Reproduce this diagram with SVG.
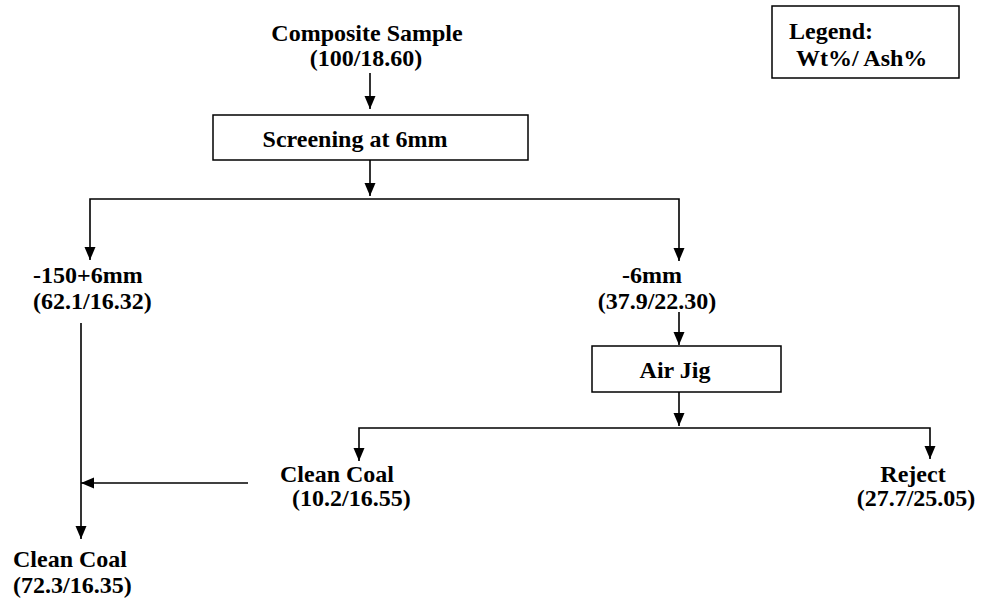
<svg xmlns="http://www.w3.org/2000/svg" width="983" height="605" viewBox="0 0 983 605">
<style>
.box{fill:#fff;stroke:#000;stroke-width:1.5}
.c{fill:none;stroke:#000;stroke-width:1.6}
.t{font-family:"Liberation Serif","Times New Roman",serif;font-weight:bold;font-size:24px;fill:#000}
.m{text-anchor:middle}
</style>
<defs>
<marker id="ah" markerUnits="userSpaceOnUse" markerWidth="13" markerHeight="12" refX="13" refY="5.5" orient="auto">
<path d="M0,0 L13,5.5 L0,11 z" fill="#000"/>
</marker>
</defs>
<rect width="983" height="605" fill="#fff"/>
<g id="connectors">
<path class="c" d="M370,73 V109" marker-end="url(#ah)"/>
<path class="c" d="M370,160 V196" marker-end="url(#ah)"/>
<path class="c" d="M370,199 H90 V260" marker-end="url(#ah)"/>
<path class="c" d="M370,199 H679 V261" marker-end="url(#ah)"/>
<path class="c" d="M679,312 V345" marker-end="url(#ah)"/>
<path class="c" d="M679,392 V426" marker-end="url(#ah)"/>
<path class="c" d="M679,428 H359 V461" marker-end="url(#ah)"/>
<path class="c" d="M679,428 H930 V459" marker-end="url(#ah)"/>
<path class="c" d="M81,323 V539" marker-end="url(#ah)"/>
<path class="c" d="M248,483 H81" marker-end="url(#ah)"/>
</g>
<g id="composite">
<text class="t m" x="367" y="41">Composite Sample</text>
<text class="t m" x="366" y="66">(100/18.60)</text>
</g>
<g id="screening">
<rect class="box" x="213" y="115" width="315" height="45"/>
<text class="t m" x="355" y="147">Screening at 6mm</text>
</g>
<g id="plus6">
<text class="t" x="33" y="283">-150+6mm</text>
<text class="t" x="33" y="309">(62.1/16.32)</text>
</g>
<g id="minus6">
<text class="t m" x="652" y="283">-6mm</text>
<text class="t m" x="657" y="309">(37.9/22.30)</text>
</g>
<g id="airjig">
<rect class="box" x="592" y="346" width="189" height="46"/>
<text class="t m" x="675" y="378">Air Jig</text>
</g>
<g id="cleancoal1">
<text class="t" x="280" y="482">Clean Coal</text>
<text class="t" x="292" y="506">(10.2/16.55)</text>
</g>
<g id="reject">
<text class="t m" x="913" y="482">Reject</text>
<text class="t m" x="916" y="506">(27.7/25.05)</text>
</g>
<g id="cleancoal2">
<text class="t" x="13" y="567">Clean Coal</text>
<text class="t" x="13" y="593">(72.3/16.35)</text>
</g>
<g id="legend">
<rect class="box" x="772" y="6" width="187" height="72"/>
<text class="t" x="789" y="39">Legend:</text>
<text class="t" x="796" y="66">Wt%/ Ash%</text>
</g>
</svg>
